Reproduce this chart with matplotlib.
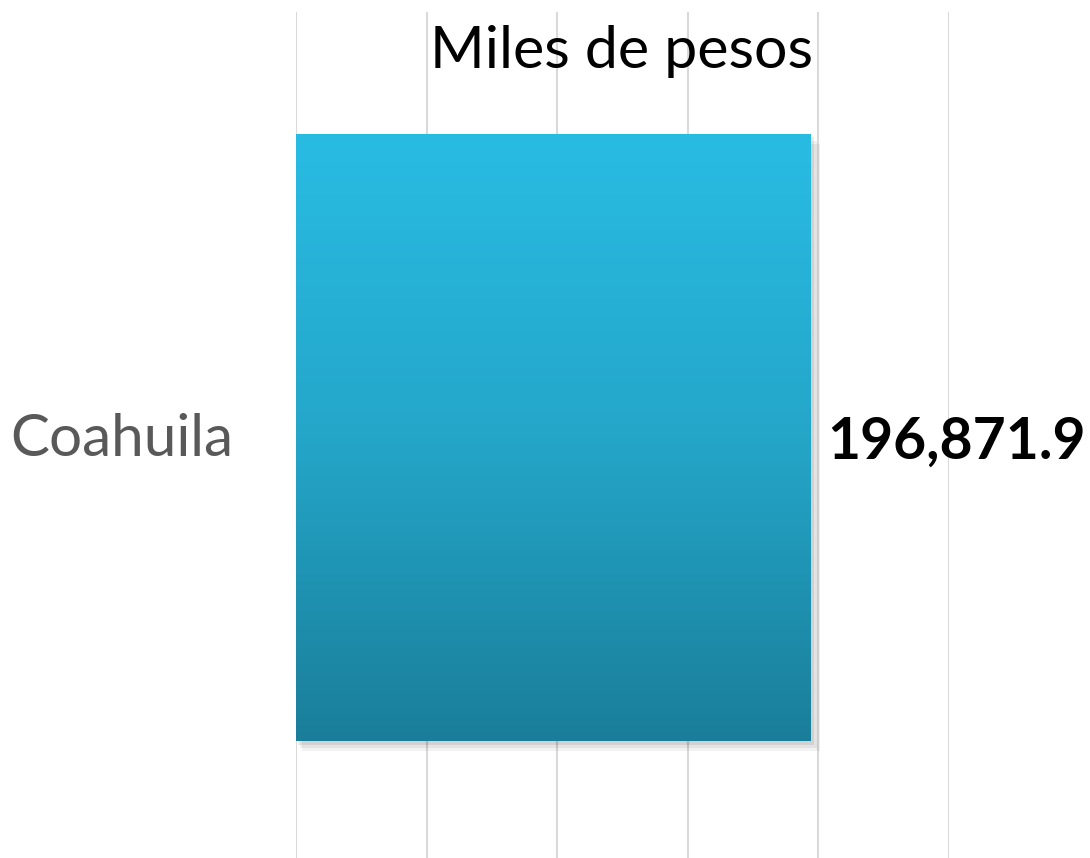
import numpy as np
import matplotlib
matplotlib.use("agg")
from matplotlib import pyplot as plt
from matplotlib.colors import LinearSegmentedColormap
from matplotlib.patches import Rectangle

# data
categories = ["Coahuila"]
values = [196871.9]
value_labels = ["196,871.9"]
title = "Miles de pesos"

plt.rcParams["font.family"] = ["Lato", "DejaVu Sans"]

fig = plt.figure(figsize=(10.9, 8.58), dpi=100)
ax = fig.add_axes([296 / 1090, 0.0, 653 / 1090, 846 / 858])

bar_h = 0.718
cmap = LinearSegmentedColormap.from_list("bar", ["#1a7e9a", "#24a6c9", "#29bce3"])

for i, (cat, val) in enumerate(zip(categories, values)):
    # soft shadow under the bar
    for k, a in enumerate([0.05, 0.06, 0.08]):
        off = 1800 * (3 - k)
        ax.add_patch(Rectangle((off * 0.4, i - 0.003 - bar_h / 2 - 0.004 * (3 - k)),
                               val + off * 0.3, bar_h,
                               facecolor="black", alpha=a, lw=0, zorder=2))
    bar = ax.barh(i - 0.003, val, height=bar_h, color="none", zorder=3)[0]
    grad = np.linspace(0, 1, 256).reshape(-1, 1)
    im = ax.imshow(grad, cmap=cmap, aspect="auto", origin="lower",
                   extent=[0, val, i - 0.003 - bar_h / 2, i - 0.003 + bar_h / 2],
                   zorder=3)
    im.set_clip_path(bar)
    ax.text(val + 6500, i - 0.008, value_labels[i], ha="left", va="center",
            fontsize=41, fontweight="bold", color="black", zorder=4)

ax.set_xlim(0, 250000)
ax.set_ylim(-0.5, 0.5)
ax.set_xticks(np.arange(0, 250001, 50000))
ax.grid(axis="x", color="#d9d9d9", lw=1.5, zorder=0)
ax.set_axisbelow(True)
ax.tick_params(axis="x", length=0, labelbottom=False)
ax.set_yticks(range(len(categories)))
ax.set_yticklabels(categories, fontsize=42, color="#595959")
ax.tick_params(axis="y", length=0, pad=45)
for s in ax.spines.values():
    s.set_visible(False)

fig.text(622 / 1090, 1 - 52 / 858, title, ha="center", va="center",
         fontsize=42.5, color="black")

fig.savefig("out.png", dpi=100)
